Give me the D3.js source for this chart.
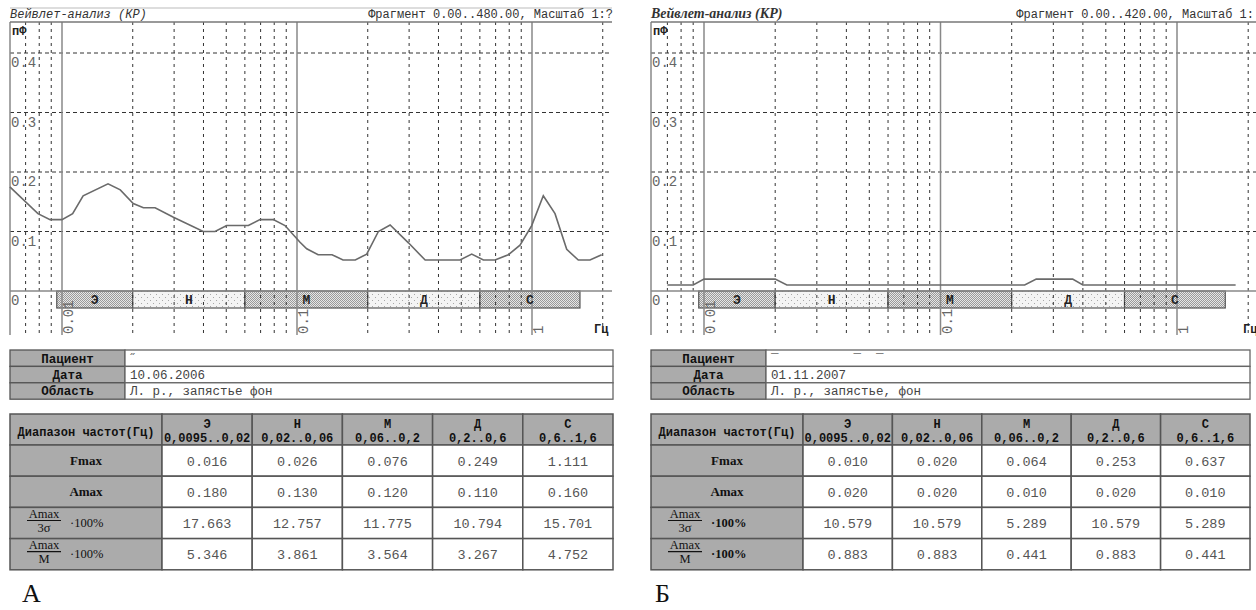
<!DOCTYPE html>
<html>
<head>
<meta charset="utf-8">
<script src="https://cdn.jsdelivr.net/npm/d3@7"></script>
<style>
  body { margin: 0; background: #fff; }
  svg { display: block; }
  text { font-family: "Liberation Mono", "DejaVu Sans Mono", monospace; }
</style>
</head>
<body>
<svg id="chart" width="1256" height="610"></svg>
<script>
'use strict';

// frequency bands (Hz)
var bandNames = ['Э', 'Н', 'М', 'Д', 'С'];
var bandEdges = [0.0095, 0.02, 0.06, 0.2, 0.6, 1.6];
var bandRanges = ['0,0095..0,02', '0,02..0,06', '0,06..0,2', '0,2..0,6', '0,6..1,6'];

// axes
var yTicks = [0.1, 0.2, 0.3, 0.4];
var yTickLabels = ['0', '0.1', '0.2', '0.3', '0.4'];
var xMajor = [0.01, 0.1, 1];
var xMajorLabels = ['0.01', '0.1', '1'];
var xMinor = [0.007, 0.008, 0.009,
  0.02, 0.03, 0.04, 0.05, 0.06, 0.07, 0.08, 0.09,
  0.2, 0.3, 0.4, 0.5, 0.6, 0.7, 0.8, 0.9, 2];

// panel A curve
var freqA = [0.0060, 0.0079, 0.0089, 0.0100, 0.0111, 0.0123, 0.0157, 0.0177, 0.0201, 0.0222,
  0.0249, 0.0298, 0.0399, 0.0448, 0.0502, 0.0621, 0.0696, 0.0793, 0.0889, 0.103,
  0.110, 0.123, 0.141, 0.157, 0.177, 0.198, 0.222, 0.249, 0.298, 0.351,
  0.494, 0.554, 0.621, 0.696, 0.793, 0.889, 0.997, 1.117, 1.253, 1.405,
  1.574, 1.765, 1.980];
var ampA = [0.175, 0.13, 0.12, 0.12, 0.13, 0.16, 0.18, 0.17, 0.147, 0.14,
  0.14, 0.124, 0.10, 0.10, 0.11, 0.11, 0.12, 0.12, 0.11, 0.082,
  0.071, 0.061, 0.061, 0.052, 0.052, 0.062, 0.100, 0.111, 0.081, 0.052,
  0.052, 0.062, 0.052, 0.052, 0.061, 0.077, 0.11, 0.16, 0.13, 0.07,
  0.052, 0.052, 0.061];

// panel B curve
var freqB = [0.007, 0.009, 0.010, 0.020, 0.0224, 0.227, 0.254, 0.362, 0.40, 1.77];
var ampB = [0.01, 0.01, 0.02, 0.02, 0.01, 0.01, 0.02, 0.02, 0.01, 0.01];

// tables
var infoLabels = ['Пациент', 'Дата', 'Область'];
var infoA = ['\u02DD', '10.06.2006', 'Л. р., запястье фон'];
var infoB = ['\u00AF\u00A0\u00A0\u00A0\u00A0\u00A0\u00A0\u00A0\u00A0\u00A0\u00A0\u00AF\u00A0\u00A0\u00AF', '01.11.2007', 'Л. р., запястье, фон'];

var rangeHeader = 'Диапазон частот(Гц)';
var rowNames = ['Fmax', 'Amax'];
var fracRows = [['Amax', '3σ', '·100%'], ['Amax', 'M', '·100%']];

var fmaxA = ['0.016', '0.026', '0.076', '0.249', '1.111'];
var amaxA = ['0.180', '0.130', '0.120', '0.110', '0.160'];
var r3sA = ['17.663', '12.757', '11.775', '10.794', '15.701'];
var rMA = ['5.346', '3.861', '3.564', '3.267', '4.752'];

var fmaxB = ['0.010', '0.020', '0.064', '0.253', '0.637'];
var amaxB = ['0.020', '0.020', '0.010', '0.020', '0.010'];
var r3sB = ['10.579', '10.579', '5.289', '10.579', '5.289'];
var rMB = ['0.883', '0.883', '0.441', '0.883', '0.441'];

var panels = [
  { ox: 0, xr: [62, 532], R: 612, tR: 613, frag: 'Фрагмент 0.00..480.00, Масштаб 1:?', fragEnd: 613,
    topLine: true, titleSerif: false, freq: freqA, amp: ampA, info: infoA,
    rows: [fmaxA, amaxA, r3sA, rMA], label: 'А', labelX: 22, boldTail: false },
  { ox: 641, xr: [63, 536], R: 620, tR: 609, frag: 'Фрагмент 0.00..420.00, Масштаб 1:', fragEnd: 613,
    topLine: false, titleSerif: true, freq: freqB, amp: ampB, info: infoB,
    rows: [fmaxB, amaxB, r3sB, rMB], label: 'Б', labelX: 14, boldTail: true }
];

var svg = d3.select('#chart');
var defs = svg.append('defs');

function dotPattern(id, bg, dot, size) {
  var p = defs.append('pattern')
    .attr('id', id)
    .attr('patternUnits', 'userSpaceOnUse')
    .attr('width', size).attr('height', size);
  p.append('rect').attr('width', size).attr('height', size).attr('fill', bg);
  p.append('rect').attr('width', 1).attr('height', 1).attr('fill', dot);
  p.append('rect').attr('x', size / 2).attr('y', size / 2).attr('width', 1).attr('height', 1).attr('fill', dot);
}
dotPattern('dense', '#e6e6e6', '#9a9a9a', 2);
dotPattern('sparse', '#f4f4f4', '#a8a8a8', 6);

panels.forEach(drawPanel);

function drawPanel(p) {
  var g = svg.append('g').attr('transform', 'translate(' + p.ox + ',0)');
  var top = 22, bot = 335, L = 10, R = p.R;
  var x = d3.scaleLog().domain([0.01, 1]).range(p.xr);
  var y = d3.scaleLinear().domain([0, 0.4]).range([291, 53]);

  // title row
  if (p.topLine) {
    g.append('line').attr('x1', L).attr('x2', R).attr('y1', 8).attr('y2', 8)
      .attr('stroke', '#bbb').attr('stroke-width', 1);
  }
  var t = g.append('text').attr('x', L).attr('y', 18).text('Вейвлет-анализ (КР)')
    .attr('font-style', 'italic').attr('fill', '#333');
  if (p.titleSerif) {
    t.style('font-family', '"Liberation Serif", serif').attr('font-size', 14).attr('font-weight', 'bold');
  } else {
    t.attr('font-size', 12);
  }
  g.append('text').attr('x', p.fragEnd).attr('y', 18).attr('text-anchor', 'end')
    .attr('font-size', 12).attr('fill', '#333').text(p.frag);

  // band bar
  g.selectAll('rect.band').data(bandNames).join('rect')
    .attr('class', 'band')
    .attr('x', function(d, i) { return x(bandEdges[i]); })
    .attr('width', function(d, i) { return x(bandEdges[i + 1]) - x(bandEdges[i]); })
    .attr('y', y(0))
    .attr('height', 17)
    .attr('fill', function(d, i) { return i % 2 ? 'url(#sparse)' : 'url(#dense)'; })
    .attr('stroke', '#555')
    .attr('stroke-width', 1.2);

  // grid
  g.selectAll('line.vminor').data(xMinor).join('line')
    .attr('class', 'vminor')
    .attr('x1', function(d) { return x(d); }).attr('x2', function(d) { return x(d); })
    .attr('y1', top).attr('y2', bot)
    .attr('stroke', '#333').attr('stroke-width', 1).attr('stroke-dasharray', '3,4');

  g.selectAll('line.hgrid').data(yTicks).join('line')
    .attr('class', 'hgrid')
    .attr('x1', L).attr('x2', R)
    .attr('y1', function(d) { return y(d); }).attr('y2', function(d) { return y(d); })
    .attr('stroke', '#333').attr('stroke-width', 1).attr('stroke-dasharray', '4,3');

  g.selectAll('line.vmajor').data(xMajor).join('line')
    .attr('class', 'vmajor')
    .attr('x1', function(d) { return x(d); }).attr('x2', function(d) { return x(d); })
    .attr('y1', top).attr('y2', bot)
    .attr('stroke', '#888').attr('stroke-width', 1.5);

  g.append('line').attr('x1', L).attr('x2', L).attr('y1', top).attr('y2', bot)
    .attr('stroke', '#888').attr('stroke-width', 1.5);
  g.append('line').attr('x1', L).attr('x2', R).attr('y1', top).attr('y2', top)
    .attr('stroke', '#777').attr('stroke-width', 1.5);
  g.append('line').attr('x1', L).attr('x2', R).attr('y1', y(0)).attr('y2', y(0))
    .attr('stroke', '#888').attr('stroke-width', 1.5);

  // band letters
  g.selectAll('text.bandName').data(bandNames).join('text')
    .attr('class', 'bandName')
    .attr('x', function(d, i) { return (x(bandEdges[i]) + x(bandEdges[i + 1])) / 2; })
    .attr('y', y(0) + 13)
    .attr('text-anchor', 'middle')
    .attr('font-size', 13).attr('font-weight', 'bold').attr('fill', '#222')
    .text(function(d) { return d; });

  // curve
  var line = d3.line()
    .x(function(d) { return x(d[0]); })
    .y(function(d) { return y(d[1]); });
  g.append('path')
    .datum(d3.zip(p.freq, p.amp))
    .attr('d', line)
    .attr('fill', 'none')
    .attr('stroke', '#6a6a6a')
    .attr('stroke-width', 1.6);

  // y labels
  g.append('text').attr('x', 12).attr('y', 35).attr('font-size', 12).attr('font-weight', 'bold')
    .attr('fill', '#222').text('пФ');
  g.selectAll('text.ylab').data([0].concat(yTicks)).join('text')
    .attr('class', 'ylab')
    .attr('x', 11)
    .attr('y', function(d) { return y(d) + 14; })
    .attr('font-size', 14).attr('fill', '#666')
    .text(function(d, i) { return yTickLabels[i]; });

  // x labels (vertical)
  g.selectAll('text.xlab').data(xMajor).join('text')
    .attr('class', 'xlab')
    .attr('transform', function(d) { return 'translate(' + (x(d) + 11) + ',' + (bot - 1) + ') rotate(-90)'; })
    .attr('font-size', 14).attr('fill', '#666')
    .text(function(d, i) { return xMajorLabels[i]; });
  g.append('text').attr('x', R - 18).attr('y', bot - 2).attr('font-size', 12).attr('font-weight', 'bold')
    .attr('fill', '#222').text('Гц');

  // info table
  var infoTop = 350, infoH = 16.4, labW = 125;
  infoLabels.forEach(function(lab, i) {
    var ry = infoTop + i * infoH;
    g.append('rect').attr('x', L).attr('y', ry).attr('width', labW - L).attr('height', infoH)
      .attr('fill', '#ababab').attr('stroke', '#555').attr('stroke-width', 1.3);
    g.append('rect').attr('x', labW).attr('y', ry).attr('width', p.tR - labW).attr('height', infoH)
      .attr('fill', '#fff').attr('stroke', '#666').attr('stroke-width', 1.3);
    g.append('text').attr('x', (L + labW) / 2).attr('y', ry + 12.5).attr('text-anchor', 'middle')
      .attr('font-size', 12.5).attr('font-weight', 'bold').attr('fill', '#111').text(lab);
    g.append('text').attr('x', labW + 5).attr('y', ry + 12.5)
      .attr('font-size', 12.5).attr('fill', '#444').text(p.info[i]);
  });

  // values table
  var tTop = 414, headH = 31, rowH = 31.2, firstW = 162;
  var colW = (p.tR - firstW) / bandNames.length;
  var col = d3.scaleBand().domain(d3.range(bandNames.length)).range([firstW, p.tR]);

  g.append('rect').attr('x', L).attr('y', tTop).attr('width', firstW - L).attr('height', headH)
    .attr('fill', '#ababab').attr('stroke', '#555').attr('stroke-width', 1.5);
  g.append('text').attr('x', (L + firstW) / 2).attr('y', tTop + 22).attr('text-anchor', 'middle')
    .attr('font-size', 12).attr('font-weight', 'bold').attr('fill', '#111').text(rangeHeader);

  bandNames.forEach(function(b, j) {
    var cx = col(j);
    g.append('rect').attr('x', cx).attr('y', tTop).attr('width', colW).attr('height', headH)
      .attr('fill', '#ababab').attr('stroke', '#555').attr('stroke-width', 1.5);
    g.append('text').attr('x', cx + colW / 2).attr('y', tTop + 14).attr('text-anchor', 'middle')
      .attr('font-size', 12).attr('font-weight', 'bold').attr('fill', '#111').text(b);
    g.append('text').attr('x', cx + colW / 2).attr('y', tTop + 28).attr('text-anchor', 'middle')
      .attr('font-size', 12).attr('font-weight', 'bold').attr('fill', '#111').text(bandRanges[j]);
  });

  p.rows.forEach(function(vals, r) {
    var ry = tTop + headH + r * rowH;
    var cy = ry + rowH / 2;
    g.append('rect').attr('x', L).attr('y', ry).attr('width', firstW - L).attr('height', rowH)
      .attr('fill', '#ababab').attr('stroke', '#555').attr('stroke-width', 1.5);
    if (r < 2) {
      g.append('text').attr('x', (L + firstW) / 2).attr('y', cy + 4.5).attr('text-anchor', 'middle')
        .style('font-family', '"Liberation Serif", serif')
        .attr('font-size', 13).attr('font-weight', 'bold').attr('fill', '#111').text(rowNames[r]);
    } else {
      var fr = fracRows[r - 2];
      var fx = 44;
      g.append('text').attr('x', fx).attr('y', cy - 5).attr('text-anchor', 'middle')
        .style('font-family', '"Liberation Serif", serif')
        .attr('font-size', 12.5).attr('fill', '#111').text(fr[0]);
      g.append('line').attr('x1', fx - 17).attr('x2', fx + 17).attr('y1', cy - 2.5).attr('y2', cy - 2.5)
        .attr('stroke', '#111').attr('stroke-width', 1.2);
      g.append('text').attr('x', fx).attr('y', cy + 8.5).attr('text-anchor', 'middle')
        .style('font-family', '"Liberation Serif", serif')
        .attr('font-size', 12.5).attr('fill', '#111').text(fr[1]);
      g.append('text').attr('x', 70).attr('y', cy + 4)
        .style('font-family', '"Liberation Serif", serif')
        .attr('font-size', 12.5).attr('font-weight', p.boldTail ? 'bold' : 'normal')
        .attr('fill', '#111').text(fr[2]);
    }
    vals.forEach(function(v, j) {
      var cx = col(j);
      g.append('rect').attr('x', cx).attr('y', ry).attr('width', colW).attr('height', rowH)
        .attr('fill', '#fff').attr('stroke', '#555').attr('stroke-width', 1.5);
      g.append('text').attr('x', cx + colW / 2).attr('y', cy + 5).attr('text-anchor', 'middle')
        .attr('font-size', 13.5).attr('fill', '#555').text(v);
    });
  });

  // panel letter
  g.append('text').attr('x', p.labelX).attr('y', 602)
    .style('font-family', '"Liberation Serif", serif')
    .attr('font-size', 26).attr('fill', '#111').text(p.label);
}
</script>
</body>
</html>
